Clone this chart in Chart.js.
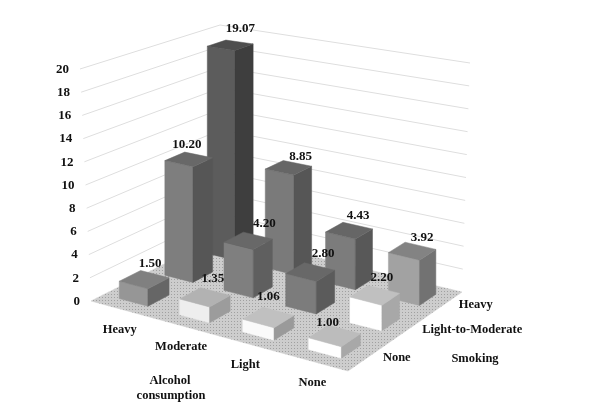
<!DOCTYPE html>
<html>
<head>
<meta charset="utf-8">
<title>Alcohol and smoking</title>
<script src="https://cdn.jsdelivr.net/npm/chart.js@4"></script>
<style>
    html, body { margin: 0; padding: 0; background: #fff; }
    canvas { display: block; }
</style>
</head>
<body>
<canvas id="chart" width="609" height="420"></canvas>
<script>
// categories
const alcoholLevels = ['Heavy', 'Moderate', 'Light', 'None'];
const smokingLevels = ['None', 'Light-to-Moderate', 'Heavy'];

// series values, one list per smoking level
const heavySmoking = [19.07, 8.85, 4.43, 3.92];
const moderateSmoking = [10.20, 4.20, 2.80, 2.20];
const noSmoking = [1.50, 1.35, 1.06, 1.00];

// value axis
const valueMax = 20;
const valueStep = 2;

// [front, side, top] colours of each box
const heavyColors = [['#5c5c5c', '#3e3e3e', '#4e4e4e'], ['#7a7a7a', '#565656', '#666666'], ['#7c7c7c', '#585858', '#666666'], ['#a2a2a2', '#727272', '#838383']];
const moderateColors = [['#7e7e7e', '#565656', '#686868'], ['#7f7f7f', '#5f5f5f', '#686868'], ['#7c7c7c', '#5b5b5b', '#686868'], ['#ffffff', '#a8a8a8', '#c0c0c0']];
const noColors = [['#969696', '#666666', '#808080'], ['#eeeeee', '#9c9c9c', '#b2b2b2'], ['#fafafa', '#9a9a9a', '#c0c0c0'], ['#ffffff', '#a8a8a8', '#bcbcbc']];

// where the data labels sit relative to the middle of each box top
const heavyLabelShift = [[10, -16], [12, -11], [9, -15], [10, -13]];
const moderateLabelShift = [[-2, -15], [16, -17], [13, -18], [7, -18]];
const noLabelShift = [[6, -16], [8, -19], [0, -21], [-7, -13]];

// floor and top of the 3d box, corners in order: left, front, right, back
const floorCorners = [[91, 301], [348, 371], [462, 292], [222, 235]];
const topCorners = [[80, 69], [347, 145], [470, 63], [220, 25]];

const barSpanX = 0.48;     // part of a cell that a box fills, alcohol direction
const barSpanZ = 0.46;     // same, smoking direction
const textFont = 'bold 12.5px "Liberation Serif"';
const valueFont = 'bold 13px "Liberation Serif"';

// solve the square -> quad mapping (u along left-front, v along front-right)
function quadMap(c, u, v) {
    // corners as unit square: (0,0)=left, (1,0)=front, (1,1)=right, (0,1)=back
    const [p0, p1, p2, p3] = c;
    const dx1 = p1[0] - p2[0], dx2 = p3[0] - p2[0], sx = p0[0] - p1[0] + p2[0] - p3[0];
    const dy1 = p1[1] - p2[1], dy2 = p3[1] - p2[1], sy = p0[1] - p1[1] + p2[1] - p3[1];
    const det = dx1 * dy2 - dx2 * dy1;
    const g = (sx * dy2 - dx2 * sy) / det;
    const h = (dx1 * sy - sx * dy1) / det;
    const a = p1[0] - p0[0] + g * p1[0], b = p3[0] - p0[0] + h * p3[0];
    const d = p1[1] - p0[1] + g * p1[1], e = p3[1] - p0[1] + h * p3[1];
    const w = g * u + h * v + 1;
    return [(a * u + b * v + p0[0]) / w, (d * u + e * v + p0[1]) / w];
}

// u, v, w all 0..1 -> pixel on the canvas
function project(u, v, w) {
    const lo = quadMap(floorCorners, u, v);
    const hi = quadMap(topCorners, u, v);
    return [lo[0] + (hi[0] - lo[0]) * w, lo[1] + (hi[1] - lo[1]) * w];
}

// same for the boxes, their edges stand straight up in the picture
function projectBox(u, v, w) {
    const lo = quadMap(floorCorners, u, v);
    const hi = quadMap(topCorners, u, v);
    return [lo[0], lo[1] + (hi[1] - lo[1]) * w];
}

function face(ctx, pts, color) {
    ctx.beginPath();
    pts.forEach((p, i) => i ? ctx.lineTo(p[0], p[1]) : ctx.moveTo(p[0], p[1]));
    ctx.closePath();
    ctx.fillStyle = color;
    ctx.strokeStyle = color;
    ctx.lineWidth = 0.5;
    ctx.fill();
    ctx.stroke();
}

function floorPattern(ctx) {
    const tile = document.createElement('canvas');
    tile.width = 3;
    tile.height = 3;
    const t = tile.getContext('2d');
    t.fillStyle = '#cdcdcd';
    t.fillRect(0, 0, 3, 3);
    t.fillStyle = '#a0a0a0';
    t.fillRect(0, 0, 1, 1);
    return ctx.createPattern(tile, 'repeat');
}

// box position in 0..1 space, read from the chart's own bar elements and scales
function boxOf(chart, datasetIndex, index) {
    const area = chart.chartArea;
    const bar = chart.getDatasetMeta(datasetIndex).data[index];
    const dataset = chart.data.datasets[datasetIndex];
    const depth = chart.scales.depth;
    return {
        u: (bar.x - area.left) / area.width,
        v: (depth.getPixelForValue(smokingLevels.indexOf(dataset.label)) - depth.left) / depth.width,
        w: (area.bottom - bar.y) / area.height
    };
}

const scene3d = {
    id: 'scene3d',
    beforeDatasetsDraw(chart) {
        const ctx = chart.ctx;
        const yScale = chart.scales.y;
        const area = chart.chartArea;

        // floor
        ctx.save();
        face(ctx, floorCorners, floorPattern(ctx));
        ctx.restore();

        // back wall grid lines and value ticks
        ctx.save();
        ctx.strokeStyle = '#dedede';
        ctx.lineWidth = 1;
        ctx.font = 'bold 13px "Liberation Serif"';
        ctx.fillStyle = '#111';
        ctx.textAlign = 'right';
        ctx.textBaseline = 'middle';
        yScale.ticks.forEach(tick => {
            const w = (area.bottom - yScale.getPixelForValue(tick.value)) / area.height;
            const a = project(0, 0, w), b = project(0, 1, w), c = project(1, 1, w);
            if (tick.value > 0) {
                ctx.beginPath();
                ctx.moveTo(a[0], a[1]);
                ctx.lineTo(b[0], b[1]);
                ctx.lineTo(c[0], c[1]);
                ctx.stroke();
            }
            ctx.fillText(tick.label, a[0] - 11, a[1] + 0.5);
        });
        ctx.restore();
    },
    beforeDatasetDraw() {
        // the flat bars are replaced by the boxes drawn in afterDatasetsDraw
        return false;
    },
    afterDatasetsDraw(chart) {
        const ctx = chart.ctx;
        const xCell = 1 / alcoholLevels.length;
        const zCell = 1 / smokingLevels.length;
        const hx = xCell * barSpanX / 2;
        const hz = zCell * barSpanZ / 2;

        // back row first, left to right
        chart.data.datasets.forEach((dataset, d) => {
            dataset.data.forEach((value, i) => {
                const { u, v, w } = boxOf(chart, d, i);
                const col = dataset.boxColors[i];
                const fl = projectBox(u - hx, v - hz, 0), fm = projectBox(u + hx, v - hz, 0), fr = projectBox(u + hx, v + hz, 0);
                const tl = projectBox(u - hx, v - hz, w), tm = projectBox(u + hx, v - hz, w), tr = projectBox(u + hx, v + hz, w);
                const tb = projectBox(u - hx, v + hz, w);
                face(ctx, [fl, fm, tm, tl], col[0]);
                face(ctx, [fm, fr, tr, tm], col[1]);
                face(ctx, [tl, tm, tr, tb], col[2]);
            });
        });

        // data labels on top of everything
        ctx.save();
        ctx.font = valueFont;
        ctx.fillStyle = '#111';
        ctx.textAlign = 'center';
        ctx.textBaseline = 'middle';
        chart.data.datasets.forEach((dataset, d) => {
            dataset.data.forEach((value, i) => {
                const { u, v, w } = boxOf(chart, d, i);
                const p = projectBox(u, v, w);
                const shift = dataset.labelShift[i];
                ctx.fillText(value.toFixed(2), p[0] + shift[0], p[1] + shift[1]);
            });
        });

        // category labels along the two floor edges
        const xScale = chart.scales.x;
        const depth = chart.scales.depth;
        ctx.font = textFont;
        xScale.ticks.forEach((tick, i) => {
            const p = project((xScale.getPixelForTick(i) - xScale.left) / xScale.width, 0, 0);
            ctx.fillText(tick.label, p[0] - 1, p[1] + 21);
        });
        ctx.textAlign = 'left';
        depth.ticks.forEach((tick, i) => {
            const p = project(1, (depth.getPixelForTick(i) - depth.left) / depth.width, 0);
            ctx.fillText(tick.label, p[0] + 14, p[1] + 1);
        });

        // axis names
        ctx.textAlign = 'center';
        ctx.fillText('Alcohol', 170, 381);
        ctx.fillText('consumption', 171, 396);
        ctx.fillText('Smoking', 475, 359);
        ctx.restore();
    }
};

new Chart(document.getElementById('chart'), {
    type: 'bar',
    data: {
        labels: alcoholLevels,
        datasets: [
            { label: 'Heavy', data: heavySmoking, boxColors: heavyColors, labelShift: heavyLabelShift },
            { label: 'Light-to-Moderate', data: moderateSmoking, boxColors: moderateColors, labelShift: moderateLabelShift },
            { label: 'None', data: noSmoking, boxColors: noColors, labelShift: noLabelShift }
        ]
    },
    options: {
        responsive: false,
        animation: false,
        grouped: false,
        layout: { padding: 0 },
        plugins: { legend: { display: false }, tooltip: { enabled: false } },
        scales: {
            x: { display: false, offset: true },
            depth: { type: 'category', axis: 'x', labels: smokingLevels, display: false, offset: true },
            y: { display: false, min: 0, max: valueMax, ticks: { stepSize: valueStep } }
        }
    },
    plugins: [scene3d]
});
</script>
</body>
</html>
